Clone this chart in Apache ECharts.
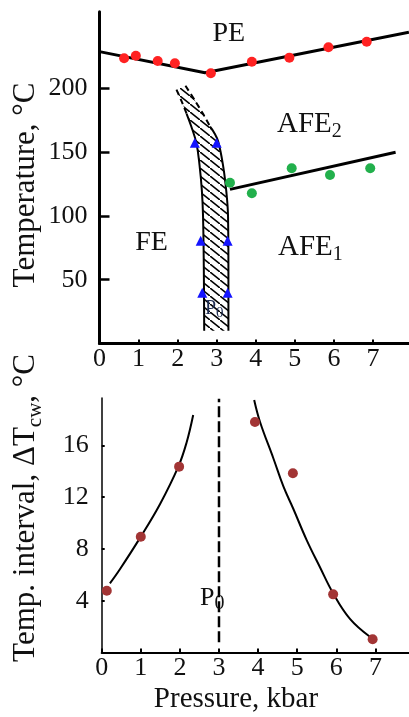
<!DOCTYPE html>
<html><head><meta charset="utf-8">
<script src="https://cdn.jsdelivr.net/npm/echarts@6/dist/echarts.min.js"></script>
<style>html,body{margin:0;padding:0;background:#fff}#c{width:409px;height:717px}</style>
</head><body><div id="c"></div><script>
// ---------- top panel: phase diagram ----------
const pressureTicks = [0, 1, 2, 3, 4, 5, 6, 7];
const tempTicks = [50, 100, 150, 200];
const peLineX = [0, 2.70, 7.92];
const peLineY = [228.7, 212.2, 243.9];
const peDotsX = [0.63, 0.93, 1.49, 1.93, 2.85, 3.90, 4.86, 5.86, 6.84];
const peDotsY = [223.5, 225.5, 221.4, 219.6, 211.8, 220.8, 224.0, 232.1, 236.5];
const afeLineX = [3.34, 7.58];
const afeLineY = [120.8, 149.8];
const afeDotsX = [3.34, 3.90, 4.92, 5.90, 6.93];
const afeDotsY = [126.0, 117.7, 137.3, 132.0, 137.3];
const triX = [2.44, 3.00, 2.59, 3.28, 2.63, 3.28];
const triY = [157.4, 157.4, 80.6, 80.6, 39.8, 39.8];
const bandLeftX = [2.23, 2.35, 2.48, 2.56, 2.62, 2.65, 2.67, 2.68];
const bandLeftY = [180, 170, 157, 140, 120, 100, 60, 10];
const bandRightX = [2.83, 2.92, 3.04, 3.17, 3.25, 3.29, 3.30, 3.30];
const bandRightY = [170, 166, 158, 138, 118, 100, 60, 10];
const dashLeftX = [1.97, 2.10, 2.23];
const dashLeftY = [199, 190, 180];
const dashRightX = [2.20, 2.45, 2.65, 2.83];
const dashRightY = [202, 190, 180, 170];
// ---------- bottom panel: temperature interval ----------
const intervalTicks = [4, 8, 12, 16];
const dotsX = [0.13, 1.00, 1.98, 3.92, 4.89, 5.92, 6.93];
const dotsY = [4.77, 8.94, 14.35, 17.8, 13.84, 4.49, 1.02];
const fitLeftX = [0.21, 0.47, 0.98, 1.49, 1.96, 2.17, 2.34];
const fitLeftY = [5.34, 6.45, 8.85, 11.45, 14.35, 16.2, 18.34];
const fitRightX = [3.90, 4.05, 4.39, 4.65, 4.90, 5.24, 5.58, 5.92, 6.35, 6.86];
const fitRightY = [19.5, 17.8, 15.0, 12.8, 11.1, 8.7, 6.6, 4.57, 2.6, 1.22];
const p0X = [3.0, 3.0];
const p0Y = [0.8, 19.6];

const zip = (xs, ys) => xs.map((x, i) => [x, ys[i]]);
const FONT = '"Liberation Serif", "Times New Roman", serif';
const INK = '#111';

// hatch pattern
const pc = document.createElement('canvas');
pc.width = 10; pc.height = 8;
const pctx = pc.getContext('2d');
pctx.strokeStyle = '#000'; pctx.lineWidth = 1.6;
pctx.beginPath();
pctx.moveTo(-2, -1.6); pctx.lineTo(12, 9.6);
pctx.stroke();

const bandPoly = zip(dashLeftX, dashLeftY)
  .concat(zip(bandLeftX, bandLeftY).slice(1))
  .concat(zip(bandRightX, bandRightY).reverse())
  .concat(zip(dashRightX, dashRightY).reverse().slice(1));

const measure = (() => {
  const c = document.createElement('canvas').getContext('2d');
  return (t, size) => { c.font = size + 'px ' + FONT; return c.measureText(t).width; };
})();

function rotTitle(cx, cy, parts) {
  let W = 0; parts.forEach(p => { p.w = measure(p.t, p.size); W += p.w; });
  let x = -W / 2;
  const children = parts.map(p => {
    const el = { type: 'text', x: x, y: p.dy, style: { text: p.t, font: p.size + 'px ' + FONT, fill: INK, align: 'left', verticalAlign: 'middle' } };
    x += p.w; return el;
  });
  return { type: 'group', x: cx, y: cy, rotation: Math.PI / 2, children };
}
function label(x, y, main, size, sub, subSize, subDy, align, color) {
  const w = measure(main, size);
  const left = align === 'center' ? x - w / 2 : x;
  const els = [{ type: 'text', x: left, y: y, style: { text: main, font: size + 'px ' + FONT, fill: color || INK, align: 'left', verticalAlign: 'middle' } }];
  if (sub) els.push({ type: 'text', x: left + w, y: y + subDy, style: { text: sub, font: subSize + 'px ' + FONT, fill: color || INK, align: 'left', verticalAlign: 'middle' } });
  return els;
}

const chart = echarts.init(document.getElementById('c'), null, { renderer: 'canvas' });
const axisLbl = (m) => ({ fontFamily: FONT, fontSize: 26, color: INK, margin: m });

chart.setOption({
  animation: false,
  backgroundColor: '#fff',
  grid: [
    { left: 99.5, top: 11.7, width: 309.4, height: 331.8, outerBoundsMode: 'none', containLabel: false },
    { left: 101.7, top: 398, width: 307.3, height: 254.5, outerBoundsMode: 'none', containLabel: false }
  ],
  xAxis: [
    { gridIndex: 0, type: 'value', min: 0, max: 7.92, interval: 1, splitLine: { show: false },
      axisLine: { lineStyle: { color: '#000', width: 3 } },
      axisTick: { inside: true, length: 4, lineStyle: { color: '#000', width: 2 }, customValues: pressureTicks },
      axisLabel: Object.assign(axisLbl(3), { customValues: pressureTicks }) },
    { gridIndex: 1, type: 'value', min: 0, max: 7.86, interval: 1, splitLine: { show: false },
      axisLine: { lineStyle: { color: '#000', width: 2 } },
      axisTick: { inside: true, length: 4, lineStyle: { color: '#000', width: 2 }, customValues: pressureTicks },
      axisLabel: Object.assign(axisLbl(3), { customValues: pressureTicks }) }
  ],
  yAxis: [
    { gridIndex: 0, type: 'value', min: 0, max: 260, interval: 50, splitLine: { show: false },
      axisLine: { show: true, lineStyle: { color: '#000', width: 3 } },
      axisTick: { show: true, inside: true, length: 10, lineStyle: { color: '#000', width: 2.5 }, customValues: tempTicks },
      axisLabel: Object.assign(axisLbl(12), { customValues: tempTicks }) },
    { gridIndex: 1, type: 'value', min: 0, max: 19.65, interval: 4, splitLine: { show: false },
      axisLine: { show: true, lineStyle: { color: '#000', width: 1.5 } },
      axisTick: { show: true, inside: true, length: 3, lineStyle: { color: '#000', width: 2 }, customValues: intervalTicks },
      axisLabel: Object.assign(axisLbl(13), { customValues: intervalTicks }) }
  ],
  series: [
    { type: 'custom', xAxisIndex: 0, yAxisIndex: 0, data: [0], silent: true, z: 1,
      renderItem: (params, api) => ({
        type: 'polygon',
        shape: { points: bandPoly.map(p => api.coord(p)) },
        style: { fill: { image: pc, repeat: 'repeat' }, stroke: null }
      }) },
    { type: 'line', xAxisIndex: 0, yAxisIndex: 0, data: zip(bandLeftX, bandLeftY), smooth: 0.4, showSymbol: false, lineStyle: { color: '#000', width: 2 }, z: 2 },
    { type: 'line', xAxisIndex: 0, yAxisIndex: 0, data: zip(bandRightX, bandRightY), smooth: 0.4, showSymbol: false, lineStyle: { color: '#000', width: 2 }, z: 2 },
    { type: 'line', xAxisIndex: 0, yAxisIndex: 0, data: zip(dashLeftX, dashLeftY), smooth: 0.3, showSymbol: false, lineStyle: { color: '#000', width: 2, type: [6, 4] }, z: 2 },
    { type: 'line', xAxisIndex: 0, yAxisIndex: 0, data: zip(dashRightX, dashRightY), smooth: 0.3, showSymbol: false, lineStyle: { color: '#000', width: 2, type: [6, 4] }, z: 2 },
    { type: 'line', xAxisIndex: 0, yAxisIndex: 0, data: zip(peLineX, peLineY), showSymbol: false, lineStyle: { color: '#000', width: 3 }, z: 3 },
    { type: 'line', xAxisIndex: 0, yAxisIndex: 0, data: zip(afeLineX, afeLineY), showSymbol: false, lineStyle: { color: '#000', width: 3 }, z: 3 },
    { type: 'scatter', xAxisIndex: 0, yAxisIndex: 0, data: zip(peDotsX, peDotsY), symbolSize: 10, itemStyle: { color: '#ff2222', opacity: 1 }, z: 4 },
    { type: 'scatter', xAxisIndex: 0, yAxisIndex: 0, data: zip(afeDotsX, afeDotsY), symbolSize: 10, itemStyle: { color: '#22b04c', opacity: 1 }, z: 4 },
    { type: 'scatter', xAxisIndex: 0, yAxisIndex: 0, data: zip(triX, triY), symbol: 'triangle', symbolSize: 10, itemStyle: { color: '#1414ff', opacity: 1 }, z: 4 },
    // bottom
    { type: 'line', xAxisIndex: 1, yAxisIndex: 1, data: zip(fitLeftX, fitLeftY), smooth: 0.4, showSymbol: false, lineStyle: { color: '#000', width: 2 }, z: 2 },
    { type: 'line', xAxisIndex: 1, yAxisIndex: 1, data: zip(fitRightX, fitRightY), smooth: 0.4, showSymbol: false, lineStyle: { color: '#000', width: 2 }, z: 2 },
    { type: 'line', xAxisIndex: 1, yAxisIndex: 1, data: zip(p0X, p0Y), showSymbol: false, lineStyle: { color: '#000', width: 2.5, type: [11, 4] }, z: 2 },
    { type: 'scatter', xAxisIndex: 1, yAxisIndex: 1, data: zip(dotsX, dotsY), symbolSize: 10, itemStyle: { color: '#a23535', opacity: 1 }, z: 4 }
  ],
  graphic: [
    rotTitle(26, 185, [{ t: 'Temperature, °C', size: 31, dy: 0 }]),
    rotTitle(26, 508, [{ t: 'Temp. interval, ΔT', size: 31, dy: 0 }, { t: 'cw', size: 21, dy: 9 }, { t: ', °C', size: 31, dy: 0 }]),
    { type: 'text', x: 236, y: 699, style: { text: 'Pressure, kbar', font: '29px ' + FONT, fill: INK, align: 'center', verticalAlign: 'middle' } }
  ].concat(
    label(212.5, 34, 'PE', 28),
    label(277, 124, 'AFE', 29, '2', 20, 8),
    label(151.5, 242.5, 'FE', 28, null, 0, 0, 'center'),
    label(278, 247, 'AFE', 29, '1', 20, 8),
    label(205, 309, 'P', 20, '0', 15, 4, 'left', '#1f2d52'),
    label(200, 598, 'P', 26, '0', 20, 6)
  ).map(e => (e.z = 10, e))
});
</script></body></html>
